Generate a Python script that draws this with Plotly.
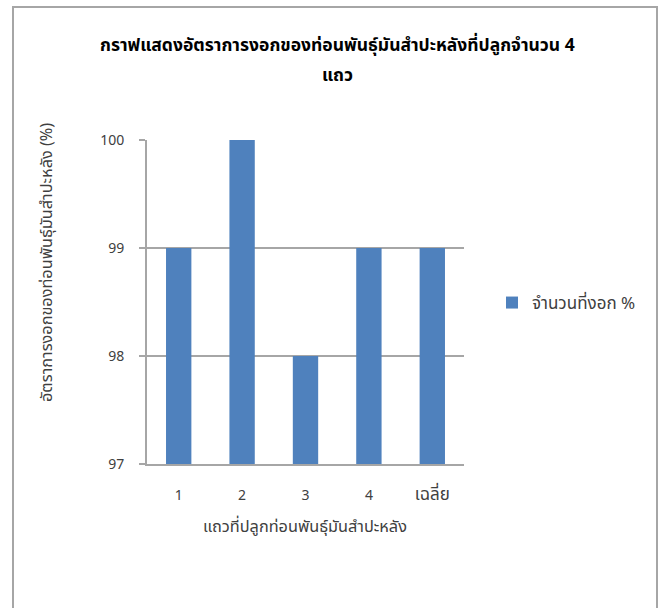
import plotly.graph_objects as go

categories = ["1", "2", "3", "4", "เฉลี่ย"]
values = [99, 100, 98, 99, 99]
series_name = "จำนวนที่งอก %"
title_line1 = "กราฟแสดงอัตราการงอกของท่อนพันธุ์มันสำปะหลังที่ปลูกจำนวน 4"
title_line2 = "แถว"
x_title = "แถวที่ปลูกท่อนพันธุ์มันสำปะหลัง"
y_title = "อัตราการงอกของท่อนพันธุ์มันสำปะหลัง (%)"
y_ticks = [97, 98, 99, 100]

W, H = 661, 608
L, R, T, B = 147, 464, 140, 464

def px(x):
    return (x - L) / (R - L)

def py(y):
    return (B - y) / (B - T)

FONT = "Tahoma, 'Noto Sans Thai', 'Noto Sans', 'DejaVu Sans', sans-serif"
GRID = "#A6A6A6"
TXT = "#404040"
THAI_SIZE = 17
AXIS_TITLE_SIZE = 16.3

# category tick labels: Thai text rendered larger than digits
tick_text = [c if c.isdigit() else f"<span style='font-size:{THAI_SIZE}px'>{c}</span>" for c in categories]

fig = go.Figure()
fig.add_trace(go.Bar(
    x=categories, y=values, name=series_name,
    marker=dict(color="#4F81BD", line=dict(width=0)),
    showlegend=True,
))

fig.update_layout(
    width=W, height=H,
    margin=dict(l=L, r=W - R, t=T, b=H - B, pad=0),
    paper_bgcolor="white", plot_bgcolor="white",
    font=dict(family=FONT, size=14, color=TXT),
    bargap=0.6,
    showlegend=True,
    legend=dict(x=px(492), y=py(303), xanchor="left", yanchor="middle",
                font=dict(size=THAI_SIZE, color=TXT), bgcolor="rgba(0,0,0,0)"),
    xaxis=dict(
        type="category", showgrid=False, showline=True, linecolor=GRID, linewidth=2,
        ticks="", ticklabelstandoff=17, tickfont=dict(size=14, color=TXT),
        tickvals=categories, ticktext=tick_text,
        zeroline=False,
    ),
    yaxis=dict(
        range=[97, 100], tickvals=y_ticks, showgrid=True, gridcolor=GRID, gridwidth=2,
        showline=True, linecolor=GRID, linewidth=2, ticks="outside", ticklen=6,
        tickcolor=GRID, tickwidth=2, ticklabelstandoff=12, zeroline=False,
        tickfont=dict(size=14, color=TXT),
    ),
    annotations=[
        dict(text="<b>" + title_line1 + "</b>",
             x=px(337), y=py(45), xref="paper", yref="paper",
             showarrow=False, xanchor="center", yanchor="middle",
             font=dict(size=17.5, color="#000000", family=FONT)),
        dict(text="<b>" + title_line2 + "</b>",
             x=px(337), y=py(75), xref="paper", yref="paper",
             showarrow=False, xanchor="center", yanchor="middle",
             font=dict(size=17.5, color="#000000", family=FONT)),
        dict(text=x_title, x=px(305), y=py(527), xref="paper", yref="paper",
             showarrow=False, xanchor="center", yanchor="middle",
             font=dict(size=AXIS_TITLE_SIZE, color=TXT, family=FONT)),
        dict(text=y_title, x=px(47), y=py(263), xref="paper", yref="paper",
             showarrow=False, xanchor="center", yanchor="middle", textangle=-90,
             font=dict(size=AXIS_TITLE_SIZE, color=TXT, family=FONT)),
    ],
    shapes=[
        dict(type="rect", xref="paper", yref="paper",
             x0=px(13), x1=px(657), y0=py(612), y1=py(7),
             line=dict(color="#A6A6A6", width=2), fillcolor="rgba(0,0,0,0)", layer="below"),
    ],
)

fig.write_html("out.html")
